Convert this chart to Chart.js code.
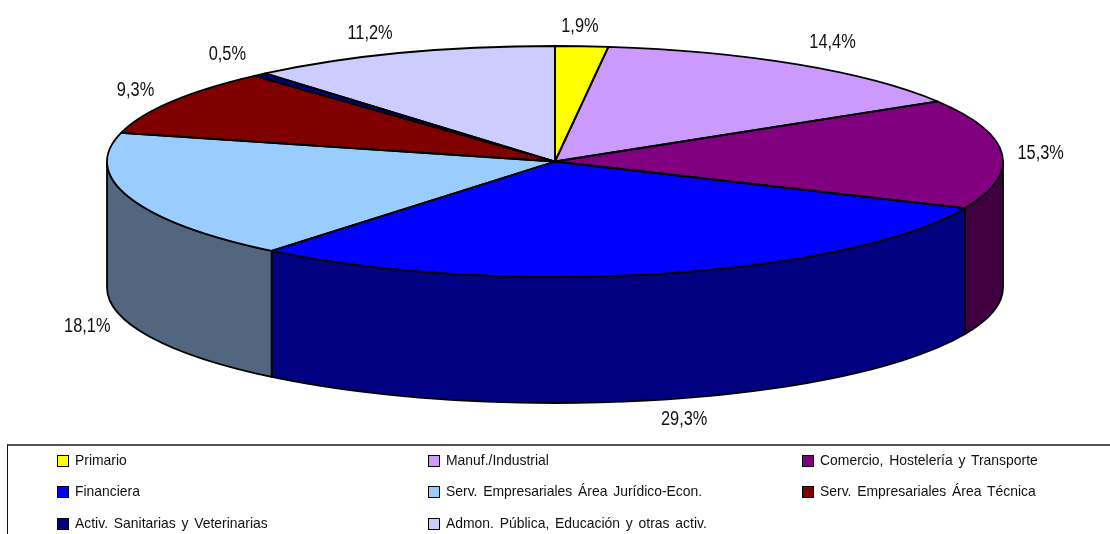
<!DOCTYPE html>
<html>
<head>
<meta charset="utf-8">
<title>Pie</title>
<script src="https://cdn.jsdelivr.net/npm/chart.js@4"></script>
<style>
  html, body { margin: 0; padding: 0; background: #fff; }
  #wrap { position: relative; width: 1110px; height: 534px; overflow: hidden; font-family: "Liberation Sans", Arial, sans-serif; }
  #pieChart { position: absolute; left: 0; top: 0; }
  #legend { position: absolute; left: 7px; top: 444px; width: 1110px; height: 90px; box-sizing: border-box; border-top: 2px solid #555; border-left: 1px solid #111; }
  .item { position: absolute; height: 16px; line-height: 16px; font-size: 14.5px; color: #111; white-space: nowrap; }
  .item i { position: absolute; left: 0; top: 3px; width: 10px; height: 10px; border: 1px solid #000; }
  .item span { position: absolute; left: 18px; top: 0; word-spacing: 2px; transform: scaleX(0.96); transform-origin: left center; }
</style>
</head>
<body>
<div id="wrap">
  <canvas id="pieChart" width="1110" height="534"></canvas>
  <div id="legend"></div>
</div>
<script>
const categories = [
  'Primario',
  'Manuf./Industrial',
  'Comercio, Hostelería y Transporte',
  'Financiera',
  'Serv. Empresariales Área Jurídico-Econ.',
  'Serv. Empresariales Área Técnica',
  'Activ. Sanitarias y Veterinarias',
  'Admon. Pública, Educación y otras activ.',
];
const shares = [1.9, 14.4, 15.3, 29.3, 18.1, 9.3, 0.5, 11.2];
const shareLabels = ['1,9%', '14,4%', '15,3%', '29,3%', '18,1%', '9,3%', '0,5%', '11,2%'];

const topColors = ['#FFFF00', '#CC99FF', '#800080', '#0000FF', '#99CCFF', '#800000', '#000080', '#CCCCFF'];
const sideColors = ['#808000', '#66507F', '#400040', '#000080', '#526680', '#400000', '#000040', '#66667F'];

// small hand tweaks so the percent labels sit where the original has them
const labelNudgeX = [-5, 6, -15, 12, 9, 10, 3, -12];
const labelNudgeY = [3, -2, 1, -3, -4, 1, -3, 2];

const PIE_DEPTH = 126;

// tilts the pie: chart area is wide and flat, arcs get stretched to fill it
const tiltedPie = {
  id: 'tiltedPie',
  beforeDatasetsDraw(chart) {
    const ctx = chart.ctx;
    const arcs = chart.getDatasetMeta(0).data;
    const area = chart.chartArea;
    const cx = arcs[0].x, cy = arcs[0].y;
    const ry = arcs[0].outerRadius;
    const rx = area.width / 2;

    // side wall, only the front half (0..PI) can be seen
    ctx.save();
    ctx.lineWidth = 1.8;
    ctx.strokeStyle = '#000';
    arcs.forEach((arc, i) => {
      const a = Math.max(arc.startAngle, 0);
      const b = Math.min(arc.endAngle, Math.PI);
      if (b <= a) return;
      ctx.beginPath();
      ctx.ellipse(cx, cy, rx, ry, 0, a, b);
      ctx.ellipse(cx, cy + PIE_DEPTH, rx, ry, 0, b, a, true);
      ctx.closePath();
      ctx.fillStyle = sideColors[i];
      ctx.fill();
      ctx.stroke();
    });
    ctx.restore();

    ctx.save();
    ctx.translate(cx, cy);
    ctx.scale(rx / ry, 1);
    ctx.translate(-cx, -cy);
  },
  afterDatasetsDraw(chart) {
    const ctx = chart.ctx;
    ctx.restore();

    const arcs = chart.getDatasetMeta(0).data;
    const area = chart.chartArea;
    const cx = arcs[0].x, cy = arcs[0].y;
    const ry = arcs[0].outerRadius;
    const rx = area.width / 2;

    // outlines drawn here so the stretch does not fatten them
    ctx.save();
    ctx.lineWidth = 1.8;
    ctx.strokeStyle = '#000';
    ctx.lineJoin = 'round';
    arcs.forEach((arc) => {
      ctx.beginPath();
      ctx.moveTo(cx, cy);
      ctx.ellipse(cx, cy, rx, ry, 0, arc.startAngle, arc.endAngle);
      ctx.closePath();
      ctx.stroke();
    });
    ctx.restore();

    // percent labels
    ctx.save();
    ctx.font = '19.5px "Liberation Sans", Arial, sans-serif';
    ctx.fillStyle = '#111';
    ctx.textAlign = 'center';
    ctx.textBaseline = 'middle';
    arcs.forEach((arc, i) => {
      const mid = (arc.startAngle + arc.endAngle) / 2;
      const sin = Math.sin(mid);
      const x = cx + rx * Math.cos(mid) * 1.12 + labelNudgeX[i];
      const y = cy + ry * sin * 1.2 + (sin > 0 ? PIE_DEPTH : 0) + labelNudgeY[i];
      ctx.save();
      ctx.translate(x, y);
      ctx.scale(0.84, 1);
      ctx.fillText(shareLabels[i], 0, 0);
      ctx.restore();
    });
    ctx.restore();
  },
};

new Chart(document.getElementById('pieChart'), {
  type: 'pie',
  data: {
    labels: categories,
    datasets: [{
      data: shares,
      backgroundColor: topColors,
      borderWidth: 0,
    }],
  },
  options: {
    responsive: false,
    animation: false,
    layout: { padding: { left: 107, right: 107, top: 46, bottom: 257 } },
    plugins: { legend: { display: false }, tooltip: { enabled: false } },
  },
  plugins: [tiltedPie],
});

// legend is three columns across, filled row by row
const legendCols = [49, 420, 794];
const legendRows = [6, 37, 69];
const legend = document.getElementById('legend');
categories.forEach((name, i) => {
  const item = document.createElement('div');
  item.className = 'item';
  item.style.left = legendCols[i % 3] + 'px';
  item.style.top = legendRows[Math.floor(i / 3)] + 'px';
  item.innerHTML = '<i style="background:' + topColors[i] + '"></i><span>' + name + '</span>';
  legend.appendChild(item);
});
</script>
</body>
</html>
